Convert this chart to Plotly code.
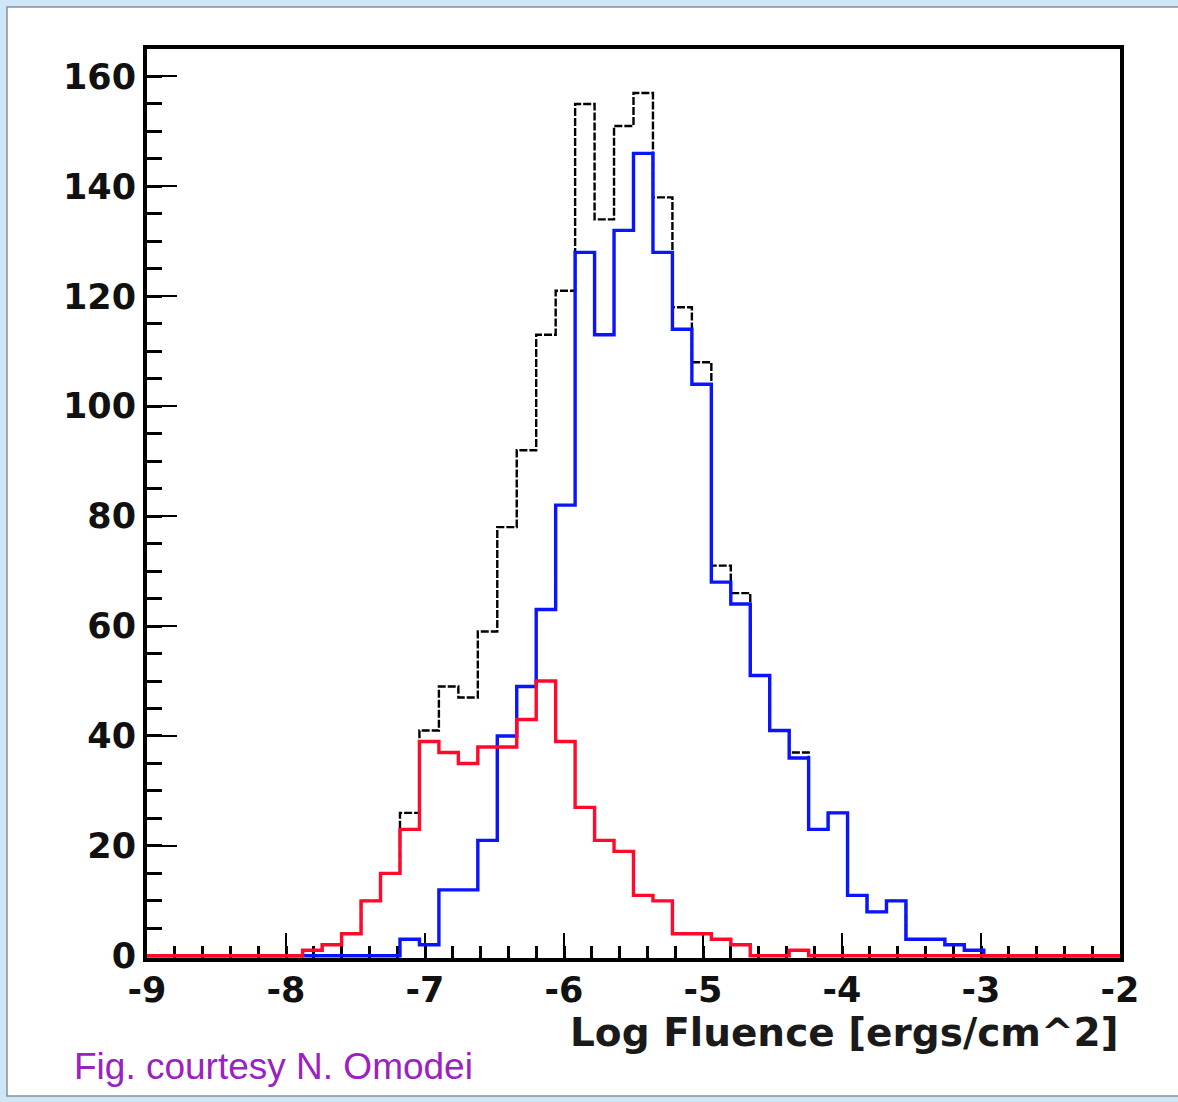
import numpy as np
import plotly.graph_objects as go

# 50 bins from -9 to -2 (Log Fluence)
n_bins = 50
x_min, x_max = -9.0, -2.0
edges = np.linspace(x_min, x_max, n_bins + 1)

# counts per bin
red_counts = [0, 0, 0, 0, 0, 0, 0, 0, 1, 2,
              4, 10, 15, 23, 39, 37, 35, 38, 38, 43,
              50, 39, 27, 21, 19, 11, 10, 4, 4, 3,
              2, 0, 0, 1, 0, 0, 0, 0, 0, 0,
              0, 0, 0, 0, 0, 0, 0, 0, 0, 0]
blue_counts = [0, 0, 0, 0, 0, 0, 0, 0, 0, 0,
               0, 0, 0, 3, 2, 12, 12, 21, 40, 49,
               63, 82, 128, 113, 132, 146, 128, 114, 104, 68,
               64, 51, 41, 36, 23, 26, 11, 8, 10, 3,
               3, 2, 1, 0, 0, 0, 0, 0, 0, 0]
total_counts = [0, 0, 0, 0, 0, 0, 0, 0, 1, 2,
                4, 10, 15, 26, 41, 49, 47, 59, 78, 92,
                113, 121, 155, 134, 151, 157, 138, 118, 108, 71,
                66, 51, 41, 37, 23, 26, 11, 8, 10, 3,
                3, 2, 1, 0, 0, 0, 0, 0, 0, 0]

x_ticks = [-9, -8, -7, -6, -5, -4, -3, -2]
y_ticks = [0, 20, 40, 60, 80, 100, 120, 140, 160]


def step_y(counts):
    return list(counts) + [counts[-1]]


fig = go.Figure()
fig.add_trace(go.Scatter(x=edges, y=step_y(total_counts), mode="lines",
                         line=dict(shape="hv", color="black", width=2.4, dash="8px,2px"),
                         name="All", showlegend=False))
fig.add_trace(go.Scatter(x=edges, y=step_y(blue_counts), mode="lines",
                         line=dict(shape="hv", color="#0a14ff", width=3.4),
                         name="Blue", showlegend=False))
fig.add_trace(go.Scatter(x=edges, y=step_y(red_counts), mode="lines",
                         line=dict(shape="hv", color="#ff0a2a", width=3.4),
                         name="Red", showlegend=False))

W, H = 1178, 1102
L, R, T, B = 147, 1178 - 1120, 49, 1102 - 958
pw, ph = W - L - R, H - T - B


def px(xp):
    return (xp - L) / pw


def py(yp):
    return (H - B - yp) / ph


bold_font = "DejaVu Sans, Liberation Sans, sans-serif"
tick_font = dict(family=bold_font, size=35, color="#111111", weight="bold")

fig.update_layout(
    width=W, height=H,
    margin=dict(l=L, r=R, t=T, b=B),
    paper_bgcolor="#cde6f8",
    plot_bgcolor="white",
    xaxis=dict(range=[x_min, x_max], tickvals=x_ticks, ticktext=[str(v) for v in x_ticks],
               ticks="inside", ticklen=25, tickwidth=2, tickcolor="black",
               minor=dict(dtick=0.2, tick0=-9, ticks="inside", ticklen=12, tickwidth=2.5, tickcolor="black"),
               showline=True, linewidth=4, linecolor="black", mirror=True,
               showgrid=False, zeroline=False, layer="below traces",
               tickfont=tick_font, ticklabelstandoff=-2),
    yaxis=dict(range=[-0.4, 165], tickvals=y_ticks, ticktext=[str(v) for v in y_ticks],
               ticks="inside", ticklen=30, tickwidth=2, tickcolor="black",
               minor=dict(dtick=5, tick0=0, ticks="inside", ticklen=15, tickwidth=3, tickcolor="black"),
               showline=True, linewidth=4, linecolor="black", mirror=True,
               showgrid=False, zeroline=False, layer="below traces",
               tickfont=tick_font, ticklabelstandoff=0),
    shapes=[dict(type="rect", xref="paper", yref="paper",
                 x0=px(7), x1=px(1200), y0=py(1096), y1=py(7),
                 line=dict(color="#8a8f95", width=1.5), fillcolor="white", layer="below")],
    annotations=[
        dict(text="Log Fluence [ergs/cm^2]", xref="paper", yref="paper",
             x=px(1121), y=py(1032), xanchor="right", yanchor="middle", showarrow=False,
             font=dict(family=bold_font, size=39, color="#1a1a1a", weight="bold")),
        dict(text="Fig. courtesy N. Omodei", xref="paper", yref="paper",
             x=px(72), y=py(1066), xanchor="left", yanchor="middle", showarrow=False,
             font=dict(family="Liberation Sans, Arial, sans-serif", size=37, color="#9b22c0")),
    ],
)

fig.write_html("out.html")
